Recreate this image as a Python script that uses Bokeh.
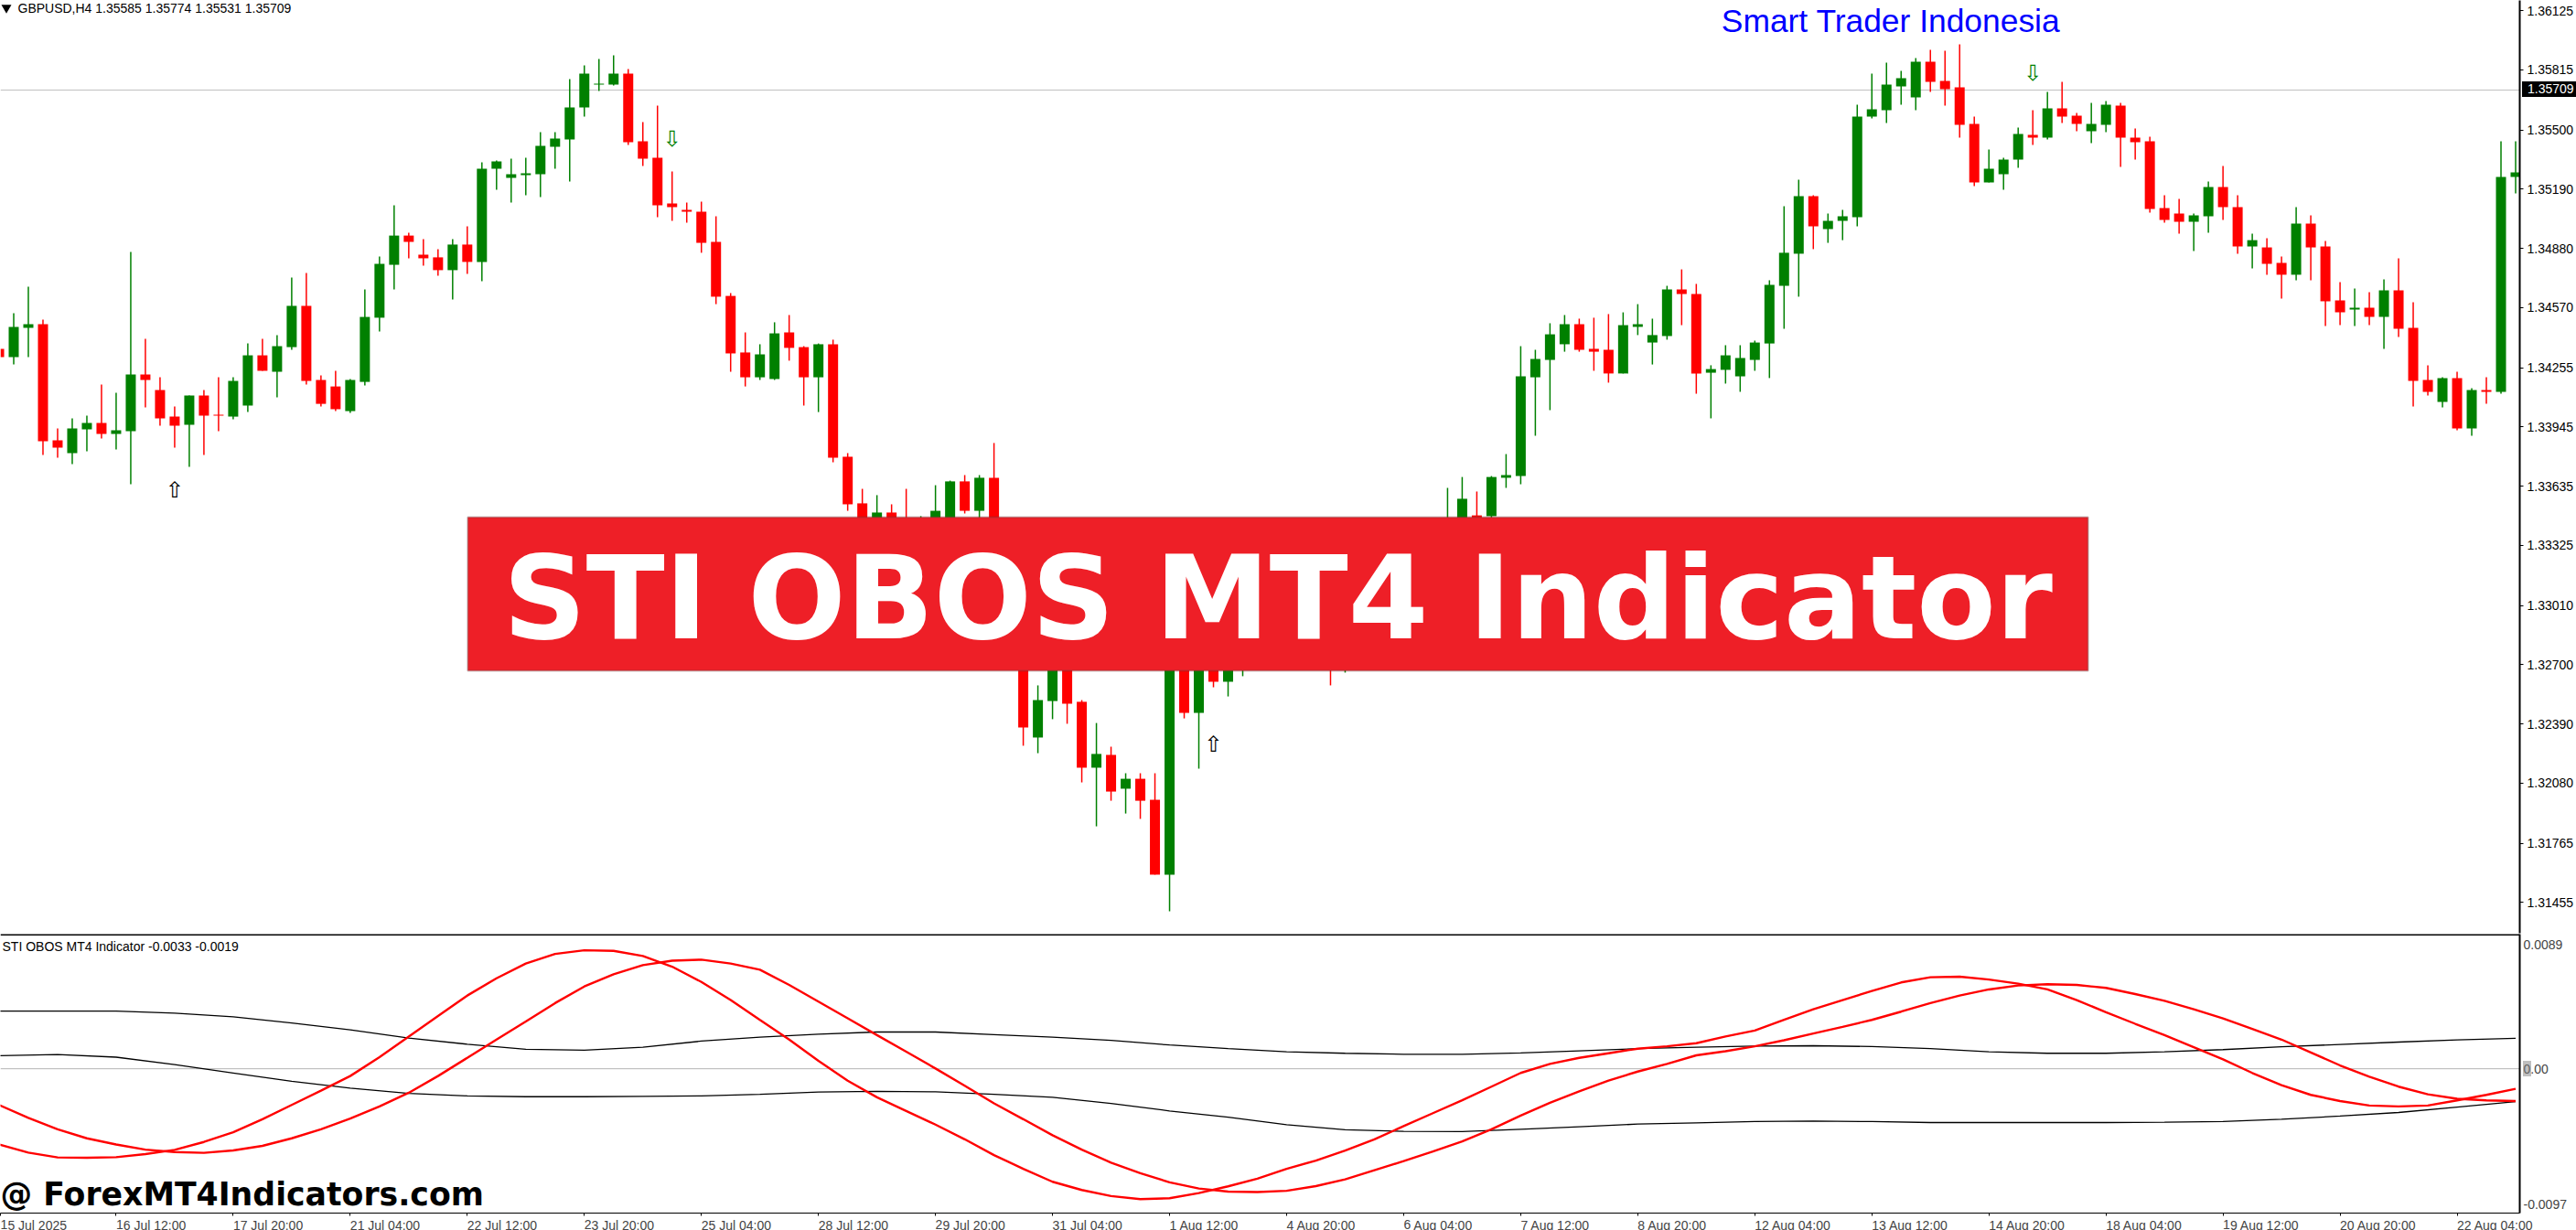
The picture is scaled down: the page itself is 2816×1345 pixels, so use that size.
from bokeh.plotting import figure
from bokeh.layouts import column
from bokeh.models import FixedTicker, Label, Span, BoxAnnotation, ColumnDataSource, Div
from bokeh.core.properties import value
from bokeh.embed import file_html
from bokeh.resources import INLINE

high = [1.34382,1.34541,1.34679,1.34507,1.33937,1.33990,1.34004,1.34167,1.34124,1.34861,
1.34406,1.34205,1.34052,1.34110,1.34138,1.34205,1.34205,1.34382,1.34406,1.34426,
1.34727,1.34751,1.34215,1.34239,1.34196,1.34665,1.34837,1.35105,1.34962,1.34928,
1.34876,1.34928,1.34995,1.35331,1.35340,1.35350,1.35354,1.35489,1.35489,1.35766,
1.35838,1.35872,1.35891,1.35819,1.35541,1.35627,1.35283,1.35120,1.35125,1.35048,
1.34646,1.34440,1.34378,1.34493,1.34531,1.34368,1.34382,1.34402,1.33808,1.33621,
1.33588,1.33540,1.33621,1.33478,1.33640,1.33664,1.33693,1.33693,1.33861,1.33305,
1.32874,1.32592,1.32826,1.32779,1.32515,1.32395,1.32271,1.32132,1.32132,1.32132,
1.32922,1.32903,1.32874,1.32874,1.32874,1.32779,1.32874,1.32922,1.32970,1.32970,
1.32970,1.33066,1.32970,1.33018,1.33114,1.33162,1.33233,1.33305,1.33377,1.33626,
1.33683,1.33607,1.33688,1.33803,1.34368,1.34349,1.34488,1.34531,1.34512,1.34517,
1.34536,1.34545,1.34588,1.34512,1.34684,1.34770,1.34694,1.34268,1.34373,1.34373,
1.34397,1.34713,1.35101,1.35240,1.35158,1.35062,1.35082,1.35632,1.35795,1.35852,
1.35809,1.35876,1.35919,1.35915,1.35948,1.35570,1.35398,1.35354,1.35512,1.35603,
1.35699,1.35752,1.35589,1.35642,1.35651,1.35642,1.35508,1.35465,1.35158,1.35139,
1.35062,1.35230,1.35311,1.35158,1.34957,1.34933,1.34837,1.35096,1.35053,1.34919,
1.34703,1.34670,1.34651,1.34718,1.34828,1.34598,1.34268,1.34205,1.34234,1.34148,
1.34205,1.35441,1.35441]

low = [1.34287,1.34272,1.34311,1.33798,1.33784,1.33750,1.33818,1.33885,1.33827,1.33645,
1.34047,1.33952,1.33837,1.33736,1.33798,1.33923,1.33985,1.34023,1.34239,1.34100,
1.34349,1.34167,1.34052,1.34028,1.34019,1.34162,1.34445,1.34665,1.34828,1.34789,
1.34737,1.34612,1.34746,1.34708,1.35187,1.35120,1.35158,1.35149,1.35297,1.35230,
1.35570,1.35704,1.35733,1.35422,1.35311,1.35043,1.35024,1.35015,1.34857,1.34588,
1.34234,1.34157,1.34191,1.34191,1.34292,1.34057,1.34023,1.33760,1.33506,1.33305,
1.33305,1.33257,1.33114,1.33209,1.33257,1.33114,1.33492,1.33449,1.33018,1.32731,
1.32276,1.32237,1.32415,1.32391,1.32084,1.31854,1.31988,1.31921,1.31893,1.31601,
1.31409,1.32419,1.32156,1.32582,1.32534,1.32640,1.32707,1.32731,1.32755,1.32769,
1.32779,1.32592,1.32659,1.32826,1.32874,1.32970,1.33018,1.33114,1.33186,1.33162,
1.33305,1.33353,1.33468,1.33626,1.33645,1.33899,1.34033,1.34339,1.34339,1.34239,
1.34177,1.34225,1.34426,1.34272,1.34402,1.34478,1.34119,1.33990,1.34172,1.34129,
1.34239,1.34201,1.34459,1.34627,1.34876,1.34909,1.34923,1.34995,1.35560,1.35536,
1.35632,1.35603,1.35699,1.35627,1.35460,1.35206,1.35225,1.35187,1.35302,1.35422,
1.35450,1.35536,1.35493,1.35431,1.35489,1.35307,1.35345,1.35067,1.35015,1.34957,
1.34866,1.34962,1.35029,1.34852,1.34775,1.34742,1.34617,1.34713,1.34713,1.34473,
1.34478,1.34473,1.34478,1.34354,1.34416,1.34052,1.34110,1.34047,1.33928,1.33899,
1.34066,1.34119,1.35168]

open_ = [1.34354,1.34311,1.34464,1.34483,1.33875,1.33808,1.33932,1.33966,1.33908,1.33923,
1.34220,1.34138,1.33999,1.33956,1.34110,1.34009,1.33999,1.34057,1.34320,1.34234,
1.34363,1.34579,1.34191,1.34157,1.34028,1.34181,1.34517,1.34794,1.34947,1.34847,
1.34833,1.34766,1.34900,1.34809,1.35297,1.35249,1.35263,1.35268,1.35412,1.35450,
1.35618,1.35738,1.35738,1.35795,1.35441,1.35354,1.35115,1.35082,1.35072,1.34914,
1.34631,1.34335,1.34205,1.34196,1.34440,1.34363,1.34205,1.34378,1.33789,1.33545,
1.33377,1.33497,1.33353,1.33305,1.33305,1.33305,1.33660,1.33506,1.33679,1.33114,
1.32826,1.32319,1.32510,1.32707,1.32506,1.32161,1.32228,1.32051,1.32103,1.31993,
1.31601,1.32826,1.32448,1.32779,1.32611,1.32721,1.32755,1.32802,1.32826,1.32946,
1.32922,1.32922,1.32707,1.32898,1.32946,1.33042,1.33090,1.33162,1.33233,1.33209,
1.33353,1.33482,1.33478,1.33679,1.33688,1.34205,1.34296,1.34378,1.34483,1.34354,
1.34349,1.34225,1.34469,1.34387,1.34421,1.34665,1.34641,1.34229,1.34244,1.34210,
1.34296,1.34382,1.34684,1.34852,1.35153,1.34981,1.35024,1.35043,1.35570,1.35603,
1.35728,1.35670,1.35857,1.35757,1.35723,1.35532,1.35225,1.35268,1.35345,1.35474,
1.35460,1.35613,1.35575,1.35493,1.35527,1.35627,1.35460,1.35441,1.35091,1.35062,
1.35019,1.35048,1.35201,1.35096,1.34890,1.34885,1.34804,1.34742,1.35010,1.34890,
1.34608,1.34560,1.34569,1.34521,1.34660,1.34464,1.34191,1.34076,1.34201,1.33937,
1.34138,1.34129,1.35254]

close = [1.34311,1.34469,1.34483,1.33870,1.33837,1.33937,1.33966,1.33908,1.33928,1.34220,
1.34191,1.33990,1.33952,1.34110,1.34004,1.34004,1.34186,1.34320,1.34239,1.34368,
1.34579,1.34186,1.34066,1.34038,1.34191,1.34521,1.34799,1.34947,1.34914,1.34828,
1.34766,1.34900,1.34809,1.35297,1.35335,1.35268,1.35273,1.35417,1.35455,1.35618,
1.35795,1.35742,1.35795,1.35436,1.35350,1.35105,1.35096,1.35072,1.34909,1.34627,
1.34330,1.34205,1.34325,1.34435,1.34359,1.34205,1.34378,1.33784,1.33540,1.33377,
1.33497,1.33305,1.33305,1.33353,1.33506,1.33660,1.33506,1.33679,1.33114,1.32826,
1.32372,1.32515,1.32731,1.32496,1.32161,1.32233,1.32036,1.32103,1.31988,1.31601,
1.32826,1.32448,1.32826,1.32611,1.32826,1.32731,1.32826,1.32874,1.32922,1.32850,
1.32850,1.32731,1.32922,1.32970,1.33066,1.33114,1.33186,1.33257,1.33353,1.33449,
1.33569,1.33468,1.33683,1.33693,1.34210,1.34301,1.34430,1.34483,1.34349,1.34339,
1.34225,1.34478,1.34483,1.34426,1.34665,1.34641,1.34225,1.34248,1.34320,1.34306,
1.34387,1.34689,1.34857,1.35153,1.34995,1.35024,1.35048,1.35570,1.35608,1.35738,
1.35771,1.35857,1.35752,1.35714,1.35527,1.35225,1.35297,1.35345,1.35479,1.35460,
1.35613,1.35570,1.35532,1.35532,1.35632,1.35460,1.35436,1.35086,1.35029,1.35019,
1.35053,1.35201,1.35096,1.34890,1.34923,1.34799,1.34742,1.35010,1.34885,1.34603,
1.34545,1.34569,1.34521,1.34660,1.34459,1.34186,1.34129,1.34201,1.33937,1.34138,
1.34129,1.35254,1.35278]

# indicator lines: red ones read every 2nd bar, black ones every 4th bar
red_bars = list(range(0, 173, 2))
fast_line = [-0.00542,-0.00600,-0.00635,-0.00637,-0.00633,-0.00611,-0.00581,-0.00524,-0.00455,-0.00361,-0.00259,-0.00157,-0.00052,0.00083,0.00231,0.00378,
0.00524,0.00648,0.00753,0.00822,0.00848,0.00844,0.00807,0.00731,0.00622,0.00492,0.00350,0.00209,0.00057,-0.00085,
-0.00204,-0.00302,-0.00400,-0.00505,-0.00618,-0.00716,-0.00809,-0.00868,-0.00911,-0.00933,-0.00927,-0.00890,-0.00842,-0.00787,-0.00716,-0.00657,
-0.00585,-0.00505,-0.00411,-0.00318,-0.00226,-0.00128,-0.00030,0.00035,0.00078,0.00111,0.00144,0.00161,
0.00183,0.00231,0.00274,0.00350,0.00426,0.00492,0.00557,0.00618,0.00655,0.00659,0.00639,0.00609,0.00568,0.00492,
0.00405,0.00322,0.00241,0.00154,0.00067,-0.00030,-0.00117,-0.00187,-0.00231,-0.00263,-0.00270,-0.00263,-0.00226,-0.00187,-0.00144]
slow_line = [-0.00259,-0.00352,-0.00433,-0.00498,-0.00542,-0.00579,-0.00596,-0.00602,-0.00585,-0.00552,-0.00498,-0.00433,-0.00357,-0.00270,-0.00172,-0.00052,
0.00078,0.00209,0.00339,0.00470,0.00589,0.00676,0.00742,0.00774,0.00781,0.00753,0.00709,0.00600,0.00481,0.00361,
0.00241,0.00122,0.00002,-0.00122,-0.00248,-0.00361,-0.00476,-0.00579,-0.00672,-0.00748,-0.00813,-0.00857,-0.00879,-0.00883,-0.00874,-0.00840,
-0.00792,-0.00726,-0.00661,-0.00592,-0.00520,-0.00433,-0.00335,-0.00244,-0.00161,-0.00085,-0.00020,0.00035,
0.00096,0.00126,0.00161,0.00204,0.00252,0.00300,0.00350,0.00409,0.00470,0.00524,0.00568,0.00596,0.00605,0.00600,
0.00579,0.00535,0.00487,0.00426,0.00361,0.00285,0.00209,0.00117,0.00024,-0.00057,-0.00128,-0.00183,-0.00215,-0.00226,-0.00231]
band_bars = list(range(0, 173, 4))
upper_band = [0.00413,0.00413,0.00413,0.00398,0.00372,0.00328,0.00278,0.00220,0.00176,0.00139,0.00133,0.00154,0.00198,0.00226,0.00248,
0.00263,0.00263,0.00244,0.00226,0.00204,0.00170,0.00144,0.00122,0.00111,0.00104,0.00104,0.00113,0.00128,0.00144,
0.00154,0.00163,0.00165,0.00159,0.00144,0.00122,0.00111,0.00111,0.00122,0.00137,0.00157,0.00174,0.00191,0.00207,0.00218]
lower_band = [0.00094,0.00102,0.00083,0.00030,-0.00030,-0.00089,-0.00139,-0.00176,-0.00194,-0.00200,-0.00200,-0.00198,-0.00194,-0.00183,-0.00167,
-0.00161,-0.00165,-0.00183,-0.00204,-0.00248,-0.00302,-0.00346,-0.00400,-0.00437,-0.00448,-0.00450,-0.00433,-0.00415,-0.00396,
-0.00387,-0.00378,-0.00374,-0.00378,-0.00385,-0.00385,-0.00385,-0.00385,-0.00383,-0.00378,-0.00361,-0.00339,-0.00313,-0.00274,-0.00235]

price_ticks = [1.36125,1.35815,1.35500,1.35190,1.34880,1.34570,1.34255,1.33945,1.33635,1.33325,1.33010,1.32700,1.32390,1.32080,1.31765,1.31455]
price_labels = ["1.36125","1.35815","1.35500","1.35190","1.34880","1.34570","1.34255","1.33945","1.33635","1.33325","1.33010","1.32700","1.32390","1.32080","1.31765","1.31455"]
# the first tick sits at the chart's left edge (its bar is cut off there)
time_ticks = [0.1] + list(range(8, 169, 8))
time_labels = ["15 Jul 2025","16 Jul 12:00","17 Jul 20:00","21 Jul 04:00","22 Jul 12:00","23 Jul 20:00","25 Jul 04:00","28 Jul 12:00","29 Jul 20:00","31 Jul 04:00","1 Aug 12:00","4 Aug 20:00","6 Aug 04:00","7 Aug 12:00","8 Aug 20:00","12 Aug 04:00","13 Aug 12:00","14 Aug 20:00","18 Aug 04:00","19 Aug 12:00","20 Aug 20:00","22 Aug 04:00"]
ind_ticks = [0.0089, 0.0, -0.0097]
ind_labels = ["0.0089", "0.00", "-0.0097"]
current_price = 1.35709

up_arrow_bars = [12, 83]
up_arrow_prices = [1.33616, 1.32285]
down_arrow_bars = [46, 139]
down_arrow_prices = [1.35455, 1.35795]

GREEN, RED = "#008000", "#FF0000"
FONT = "Liberation Sans"

# reference pixel -> data helpers (layout only)
bar_x = lambda px: (px + 1.5) / 16
main_y = lambda py: 1.36178 - 4.788e-5 * py
ind_y = lambda py: (1168.67 - py) / 15323

p1 = figure(width=2816, height=1021, output_backend="svg", toolbar_location=None,
            x_range=(bar_x(0), bar_x(2755)), y_range=(main_y(1020), main_y(0)),
            x_axis_location=None, y_axis_location="right",
            min_border_left=0, min_border_top=0, min_border_bottom=1, min_border_right=61,
            background_fill_color="white", border_fill_color="white", outline_line_color=None)
p1.grid.visible = False
ax = p1.yaxis[0]
ax.ticker = FixedTicker(ticks=price_ticks)
ax.major_label_overrides = dict(zip(price_ticks, price_labels))
ax.major_label_text_font = FONT
ax.major_label_text_font_size = "14px"
ax.major_label_text_color = "black"
ax.axis_line_color = "black"
ax.axis_line_width = 2
ax.major_tick_line_color = "black"
ax.major_tick_out = 4
ax.major_tick_in = 0
ax.minor_tick_line_color = None
ax.major_label_standoff = 4

bars = list(range(len(open_)))
colors = [GREEN if c >= o else RED for o, c in zip(open_, close)]
src = ColumnDataSource(dict(x=bars, o=open_, c=close, h=high, l=low, col=colors))

p1.add_layout(Span(location=current_price, dimension="width", line_color="#C0C0C0", line_width=1, level="underlay"))
p1.segment("x", "h", "x", "l", source=src, line_color="col", line_width=1.5)
p1.vbar("x", width=11/16, top="o", bottom="c", source=src, fill_color="col", line_color=None)

p1.text(up_arrow_bars, up_arrow_prices, text=["\u21e7"]*2, text_color="black",
        text_font=value("DejaVu Sans"), text_font_size="24px", text_align="center", text_baseline="middle")
p1.text(down_arrow_bars, down_arrow_prices, text=["\u21e9"]*2, text_color=GREEN,
        text_font=value("DejaVu Sans"), text_font_size="24px", text_align="center", text_baseline="middle")

p1.scatter([bar_x(6.5)], [main_y(8)], marker="inverted_triangle", size=11, fill_color="black", line_color=None)
p1.add_layout(Label(x=bar_x(19), y=main_y(16.7), text="GBPUSD,H4  1.35585 1.35774 1.35531 1.35709",
                    text_font=FONT, text_font_size="14px", text_color="black"))
p1.add_layout(Label(x=bar_x(1882), y=main_y(42.7), text="Smart Trader Indonesia",
                    text_font=FONT, text_font_size="35.4px", text_color="#0000FF"))
p1.add_layout(BoxAnnotation(left=bar_x(511), right=bar_x(2283), top=main_y(565), bottom=main_y(733),
                            fill_color="#EE1F27", fill_alpha=1, line_color="#5a3a3a", line_width=2, level="overlay"))
p1.add_layout(Label(x=bar_x(1397), y=main_y(727), text="STI OBOS MT4 Indicator", text_align="center",
                    text_font="DejaVu Sans", text_font_style="bold", text_font_size="126px", text_color="white",
                    level="overlay"))

p2 = figure(width=2816, height=337, output_backend="svg", toolbar_location=None,
            x_range=p1.x_range, y_range=(ind_y(1327), ind_y(1021)),
            x_axis_location="below", y_axis_location="right",
            min_border_left=0, min_border_top=0, min_border_bottom=31, min_border_right=61,
            background_fill_color="white", border_fill_color="white", outline_line_color=None)
p2.grid.visible = False
ay = p2.yaxis[0]
ay.ticker = FixedTicker(ticks=ind_ticks)
ay.major_label_overrides = dict(zip(ind_ticks, ind_labels))
ay.major_label_text_font = FONT
ay.major_label_text_font_size = "14px"
ay.axis_line_color = "black"
ay.axis_line_width = 2
ay.major_tick_line_color = None
ay.major_tick_out = 0
ay.major_tick_in = 0
ay.minor_tick_line_color = None
ay.major_label_standoff = 4

ax2 = p2.xaxis[0]
ax2.ticker = FixedTicker(ticks=time_ticks)
ax2.major_label_overrides = dict(zip(time_ticks, time_labels))
ax2.major_label_text_font = FONT
ax2.major_label_text_font_size = "14px"
ax2.major_label_orientation = -0.0001
ax2.axis_line_color = "black"
ax2.axis_line_width = 1
ax2.major_tick_line_color = "black"
ax2.major_tick_out = 3
ax2.major_tick_in = 0
ax2.minor_tick_line_color = None
ax2.major_label_standoff = 10

p2.add_layout(Span(location=0, dimension="width", line_color="#B4B4B4", line_width=1, level="underlay"))
p2.add_layout(Span(location=ind_y(1022), dimension="width", line_color="black", line_width=1))
p2.add_layout(Span(location=ind_y(1021), dimension="width", line_color="black", line_width=1))

p2.line(band_bars, upper_band, line_color="black", line_width=1.3)
p2.line(band_bars, lower_band, line_color="black", line_width=1.3)
p2.line(red_bars, fast_line, line_color=RED, line_width=2.4)
p2.line(red_bars, slow_line, line_color=RED, line_width=2.4)

p2.add_layout(Label(x=bar_x(2), y=ind_y(1042.7), text="STI OBOS MT4 Indicator -0.0033 -0.0019",
                    text_font=FONT, text_font_size="14px", text_color="black"))
p2.add_layout(Label(x=bar_x(0), y=ind_y(1326.6), text="@ ForexMT4Indicators.com",
                    text_font="DejaVu Sans", text_font_style="bold", text_font_size="34.7px", text_color="black"))

price_box = Div(text="1.35709", width=59, height=17, margin=0, styles={
    "position": "absolute", "left": "2757px", "top": "89px", "background": "black", "color": "white",
    "font-family": FONT, "font-size": "14px", "line-height": "17px", "padding-left": "6px", "box-sizing": "border-box"})
zero_box = Div(text="", width=9, height=17, margin=0, styles={
    "position": "absolute", "left": "2758px", "top": "1160px", "background": "rgba(128,128,128,0.5)"})

layout = column(p1, p2, price_box, zero_box, spacing=0, height=1345, styles={"overflow": "hidden"})
open("out.html", "w").write(file_html(layout, INLINE))
